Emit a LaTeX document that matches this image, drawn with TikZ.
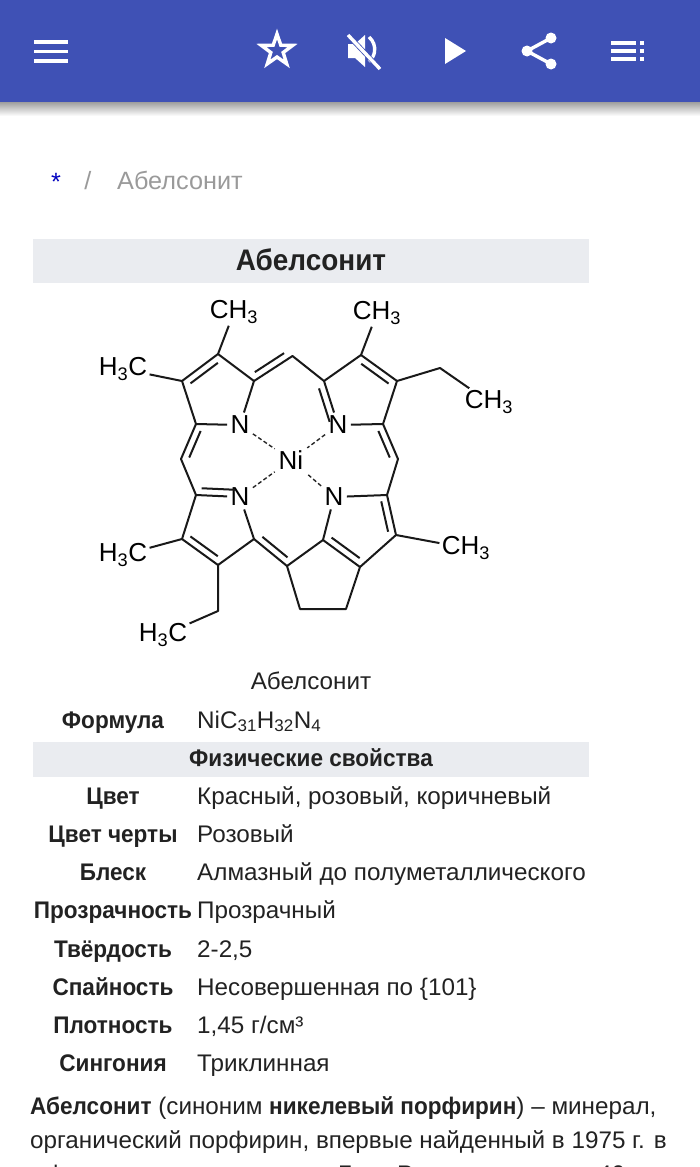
\documentclass[tikz,border=0pt]{standalone}
\usepackage{fontspec}
\setmainfont[FakeStretch=1.01, BoldFeatures={FakeStretch=0.94}]{Liberation Sans}
\newfontfamily\chemfont{Liberation Sans}
\usepackage{xcolor}
\definecolor{colorBar}{HTML}{3F51B5}
\definecolor{colorBand}{HTML}{EAECF0}
\definecolor{colorCrumb}{HTML}{9A9A9A}
\definecolor{colorText}{HTML}{222222}
\usetikzlibrary{calc}
\tikzset{
  bond/.style={line width=2pt, black!90},
  coord/.style={line width=1.4pt, dash pattern=on 4pt off 2.5pt, black!85},
  atom/.style={font=\chemfont\fontsize{26}{28}\selectfont, inner sep=0pt, outer sep=2.5pt},
  rowname/.style={anchor=base, font=\bfseries\fontsize{24}{28}\selectfont, text=colorText},
  rowvalue/.style={anchor=base west, inner sep=0pt, font=\fontsize{24}{28}\selectfont, text=colorText},
  para/.style={anchor=base west, inner sep=0pt, font=\fontsize{24}{28}\selectfont, text=colorText},
  icon/.style={white, line width=3.4pt}
}
\newcommand{\dbl}[3]{\draw[bond] ($(#1)!.12!(#2)!7pt!#3:(#2)$) -- ($(#2)!.12!(#1)!7pt!-#3:(#1)$);}

\begin{document}
\begin{tikzpicture}[x=1pt, y=-1pt]
\useasboundingbox (0,0) rectangle (700,1167);
\clip (0,0) rectangle (700,1167);
% top bar
\shade[top color=black!38, bottom color=white] (0,102) rectangle (700,116);
\fill[colorBar] (0,0) rectangle (700,102);
\foreach \ypos in {42,51.5,61}
  \draw[icon, line width=3.6pt] (34,\ypos) -- (68,\ypos);
% star
\draw[icon, line join=miter] (277,34)
  \foreach \ang in {1,...,9} {-- ({277+(mod(\ang,2)==1 ? 6.5 : 16.5)*sin(36*\ang)},{50.5-(mod(\ang,2)==1 ? 6.5 : 16.5)*cos(36*\ang)})} -- cycle;
% mute
\fill[white] (348,44) -- (355,44) -- (365,35) -- (365,67) -- (355,58) -- (348,58) -- cycle;
\draw[icon] (369,37) arc (-50:50:16);
\draw[colorBar, line width=5pt] (345,32) -- (383,72);
\draw[icon] (348,35) -- (380,69);
% play
\fill[white] (445,38) -- (466,51) -- (445,64) -- cycle;
% share
\fill[white] (527,51) circle (5.5) (551,38) circle (5.5) (551,64) circle (5.5);
\draw[icon] (551,38) -- (527,51) -- (551,64);
% list
\foreach \ypos in {43,51,59} {
  \draw[icon] (611,\ypos) -- (636,\ypos);
  \draw[icon] (640,\ypos) -- (644,\ypos);
}
% breadcrumb
\node[anchor=base, inner sep=0pt, text=blue!75!black, font=\fontsize{25}{28}\selectfont] (star) at (56,190) {*};
\node[anchor=base, inner sep=0pt, text=colorCrumb, font=\fontsize{25}{28}\selectfont] (slash) at (88,189) {/};
\node[anchor=base west, inner sep=0pt, text=colorCrumb, font=\fontsize{25}{28}\selectfont] (crumb) at (117,189) {Абелсонит};
% title
\fill[colorBand] (33,239) rectangle (589,283);
\node[anchor=base, inner sep=0pt, text=colorText, font=\bfseries\fontsize{29.7}{32}\selectfont] (title) at (311,270) {Абелсонит};
% molecule atoms
\coordinate (a1) at (196,424);
\coordinate (a2) at (182,381);
\coordinate (a3) at (218,354);
\coordinate (a4) at (254,381);
\coordinate (m1) at (292.5,356);
\coordinate (b1) at (324,381);
\coordinate (b2) at (361,355);
\coordinate (b3) at (397,381);
\coordinate (b4) at (383,424);
\coordinate (m2) at (398,459);
\coordinate (c1) at (387,495);
\coordinate (c2) at (396,535);
\coordinate (c3) at (360,567);
\coordinate (c4) at (323,540);
\coordinate (m3) at (287,566);
\coordinate (r1) at (300,609);
\coordinate (r2) at (346,609);
\coordinate (d1) at (254,539);
\coordinate (d2) at (218,565);
\coordinate (d3) at (182,539);
\coordinate (d4) at (196,495);
\coordinate (m4) at (181,459);
\coordinate (e1) at (440,368);
\coordinate (e2) at (218,611);
\node[atom, outer sep=4pt] (ni) at (291,460) {Ni};
\node[atom, outer sep=3.5pt] (n1) at (240,425) {N};
\node[atom, outer sep=3.5pt] (n2) at (338,425) {N};
\node[atom, outer sep=3.5pt] (n3) at (240,497) {N};
\node[atom, outer sep=3.5pt] (n4) at (334,497) {N};
\node[atom] (me1) at (234,312) {CH\textsubscript{3}};
\node[atom] (me2) at (377,313) {CH\textsubscript{3}};
\node[atom] (me3) at (489,402) {CH\textsubscript{3}};
\node[atom] (me4) at (466,548) {CH\textsubscript{3}};
\node[atom] (me5) at (123,369) {H\textsubscript{3}C};
\node[atom] (me6) at (123,555) {H\textsubscript{3}C};
\node[atom] (me7) at (163,635) {H\textsubscript{3}C};
% bonds
\draw[bond, line join=round] (n1) -- (a1) -- (a2) -- (a3) -- (a4) -- (n1);
\draw[bond, line join=round] (a4) -- (m1) -- (b1) -- (b2) -- (b3) -- (b4) -- (n2);
\draw[bond] (b1) -- (n2);
\draw[bond, line join=round] (b4) -- (m2) -- (c1) -- (n4);
\draw[bond, line join=round] (c1) -- (c2) -- (c3) -- (c4) -- (n4);
\draw[bond, line join=round] (c4) -- (m3) -- (r1) -- (r2) -- (c3);
\draw[bond, line join=round] (m3) -- (d1) -- (d2) -- (d3) -- (d4) -- (n3);
\draw[bond] (d1) -- (n3);
\draw[bond, line join=round] (d4) -- (m4) -- (a1);
\draw[bond] (a3) -- (me1);
\draw[bond] (a2) -- (me5);
\draw[bond] (b2) -- (me2);
\draw[bond, line join=round] (b3) -- (e1) -- (me3);
\draw[bond] (c2) -- (me4);
\draw[bond] (d3) -- (me6);
\draw[bond, line join=round] (d2) -- (e2) -- (me7);
% second lines of double bonds
\dbl{a2}{a3}{-90}
\dbl{a4}{m1}{90}
\dbl{a1}{m4}{90}
\dbl{b1}{n2}{-90}
\dbl{b2}{b3}{-90}
\dbl{b4}{m2}{-90}
\dbl{c1}{c2}{-90}
\dbl{c3}{c4}{-90}
\dbl{d1}{m3}{90}
\dbl{d2}{d3}{-90}
\dbl{d4}{n3}{90}
\foreach \n in {n1,n2,n3,n4}
  \draw[coord] (\n) -- (ni);
% table
\node[anchor=base, inner sep=0pt, text=colorText, font=\fontsize{24}{28}\selectfont] (caption) at (311,689) {Абелсонит};
\node[rowname, inner sep=0pt] (lab0) at (113,728) {Формула};
\node[rowvalue] (val0) at (197,728) {NiC\textsubscript{31}H\textsubscript{32}N\textsubscript{4}};
\fill[colorBand] (33,742) rectangle (589,777);
\node[rowname, inner sep=0pt] (band) at (311,766) {Физические свойства};
\foreach \i/\ypos/\lab/\val in {
  1/804/Цвет/{Красный, розовый, коричневый},
  2/842/Цвет черты/Розовый,
  3/880/Блеск/Алмазный до полуметаллического,
  4/918/Прозрачность/Прозрачный,
  5/957/Твёрдость/{2-2,5},
  6/995/Спайность/{Несовершенная по \{101\}},
  7/1033/Плотность/{1,45 г/см³},
  8/1071/Сингония/Триклинная} {
  \node[rowname, inner sep=0pt] (lab\i) at (113,\ypos) {\lab};
  \node[rowvalue] (val\i) at (197,\ypos) {\val};
}
% text below
\node[para] (line1) at (30,1114) {\textbf{Абелсонит} (синоним \textbf{никелевый порфирин}) – минерал,};
\node[para] (line2) at (30,1148) {органический порфирин, впервые найденный в 1975 г. в};
\node[para] (line3a) at (26,1182) {в формации};
\node[para] (line3b) at (338,1182) {Грин Ривер};
\node[para] (line3c) at (598,1182) {40};
\end{tikzpicture}
\end{document}
